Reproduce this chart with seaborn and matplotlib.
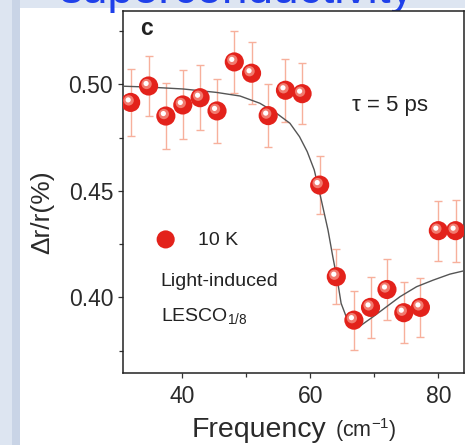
import numpy as np
import pandas as pd
import matplotlib
matplotlib.use("Agg")
import matplotlib.pyplot as plt
import matplotlib.transforms as mtransforms
from matplotlib.patches import Rectangle
from matplotlib.ticker import MultipleLocator
import seaborn as sns

# ---- data ----
freq = [31.9, 34.7, 37.4, 40.05, 42.75, 45.4, 48.1, 50.8, 53.4, 56.1,
        58.7, 61.45, 64.05, 66.8, 69.4, 71.97, 74.6, 77.2, 80.0, 82.7]
dr = [0.4915, 0.4992, 0.4851, 0.4903, 0.4937, 0.4875, 0.5105, 0.5052, 0.4853, 0.4972,
      0.4956, 0.4527, 0.4097, 0.3893, 0.3953, 0.4037, 0.3928, 0.3953, 0.4313, 0.4313]
err = [0.0158, 0.0139, 0.0154, 0.0162, 0.0152, 0.0152, 0.0147, 0.0145, 0.0149, 0.0147,
       0.0144, 0.0136, 0.0129, 0.0139, 0.0142, 0.0143, 0.0144, 0.0140, 0.0141, 0.0145]

fit_x = [30.72, 34.7, 40.1, 45.3, 49.0, 52.1, 54.7, 56.8, 58.3, 59.5, 60.6, 61.7,
         62.75, 63.5, 64.3, 64.8, 65.6, 66.9, 67.97, 69.8, 71.9, 74.0, 76.6,
         79.2, 81.8, 84.06]
fit_y = [0.4991, 0.4987, 0.4978, 0.4962, 0.4945, 0.4911, 0.4864, 0.4817, 0.4754,
         0.4684, 0.4598, 0.4457, 0.4316, 0.4191, 0.4066, 0.3972, 0.3909, 0.3870,
         0.3870, 0.3909, 0.3956, 0.4003, 0.4050, 0.4081, 0.4109, 0.4125]

x_ticks = [40, 60, 80]
y_ticks = [0.40, 0.45, 0.50]

# ---- figure ----
sns.set_theme(style="ticks")
plt.rcParams['font.family'] = ['Liberation Sans', 'DejaVu Sans']
plt.rcParams['mathtext.fontset'] = 'custom'
plt.rcParams['mathtext.rm'] = 'Liberation Sans'

W, H = 465, 445
fig = plt.figure(figsize=(W / 100, H / 100), dpi=100)
fig.patch.set_facecolor('#dde5f1')

# slide-like background bands and white panel
fig.patches.append(Rectangle((12 / W, 0), 8 / W, 1, transform=fig.transFigure,
                             facecolor='#c9d4e6', edgecolor='none', zorder=-10))
fig.patches.append(Rectangle((20 / W, 0), 445 / W, (H - 8) / H, transform=fig.transFigure,
                             facecolor='white', edgecolor='none', zorder=-9))
fig.text(60 / W, (H - 3) / H, "superconductivity", fontsize=33, color='#1f40ea',
         va='baseline', ha='left', zorder=-8)

ax = fig.add_axes([123 / W, (H - 373) / H, (464.3 - 123) / W, (373 - 11) / H])
ax.set_zorder(1)
ax.set_facecolor('white')

df = pd.DataFrame({'freq': freq, 'dr': dr, 'err': err})
fit = pd.DataFrame({'x': fit_x, 'y': fit_y})

ax.errorbar(df['freq'], df['dr'], yerr=df['err'], fmt='none', ecolor='#f7b09c',
            elinewidth=1.0, capsize=3, capthick=1.0, zorder=2)
sns.lineplot(data=fit, x='x', y='y', sort=False, color='#555555', linewidth=1.0,
             ax=ax, zorder=3)
sns.scatterplot(data=df, x='freq', y='dr', s=190, color='#e3221b', edgecolor='none',
                linewidth=0, ax=ax, zorder=4)
# glossy highlight
hl1 = mtransforms.offset_copy(ax.transData, fig=fig, x=-2.0, y=2.0, units='dots')
ax.scatter(df['freq'], df['dr'], s=55, color='#f27a6e', edgecolor='none', transform=hl1, zorder=5)
hl2 = mtransforms.offset_copy(ax.transData, fig=fig, x=-2.5, y=2.5, units='dots')
ax.scatter(df['freq'], df['dr'], s=14, color='#ffffff', edgecolor='none', transform=hl2, zorder=6)

ax.set_xlim(30.7, 84.06)
ax.set_ylim(0.3645, 0.5344)
ax.set_xticks(x_ticks)
ax.set_yticks(y_ticks)
ax.set_yticklabels([f"{v:.2f}" for v in y_ticks])
ax.xaxis.set_minor_locator(MultipleLocator(10))
ax.yaxis.set_minor_locator(MultipleLocator(0.025))
ax.tick_params(which='major', direction='out', length=3.6, width=0.9, color='#333333',
               labelsize=16.5, labelcolor='#2a2a2a')
ax.tick_params(axis='y', which='major', pad=3.5)
ax.tick_params(axis='x', which='major', pad=5)
ax.tick_params(which='minor', direction='out', length=2.8, width=0.9, color='#333333')
for s in ax.spines.values():
    s.set_linewidth(1.1)
    s.set_color('#222222')
    s.set_visible(True)
ax.set_xlabel('')
ax.set_ylabel('')

# axis labels
fig.text(191.7 / W, (H - 436.7) / H, "Frequency", fontsize=20.5, color='#2a2a2a',
         va='baseline', ha='left')
fig.text(335 / W, (H - 436.7) / H, r"(cm$^{\mathregular{-1}}$)", fontsize=15.5, color='#2a2a2a',
         va='baseline', ha='left')
fig.text(42 / W, (H - 211.7) / H, "Δr/r(%)", fontsize=19, color='#2a2a2a',
         rotation=90, va='center', ha='center')

# annotations
ax.text(140 / W, (H - 35) / H, "c", fontsize=16.5, fontweight='bold', color='#222222',
        va='baseline', ha='left', transform=fig.transFigure, zorder=7)
ax.text(351.7 / W, (H - 110.7) / H, "τ = 5 ps", fontsize=16, color='#222222',
        va='baseline', ha='left', transform=fig.transFigure, zorder=7)
ax.scatter([0.125], [0.369], s=170, color='#e3221b', edgecolor='none',
           transform=ax.transAxes, clip_on=False, zorder=6)
ax.text(198.3 / W, (H - 245) / H, "10 K", fontsize=14, color='#222222',
        va='baseline', ha='left', transform=fig.transFigure, zorder=7)
ax.text(160.7 / W, (H - 285.5) / H, "Light-induced", fontsize=14, color='#222222',
        va='baseline', ha='left', transform=fig.transFigure, zorder=7)
ax.text(160.7 / W, (H - 321.7) / H, r"LESCO$_{\mathregular{1/8}}$", fontsize=14, color='#222222',
        va='baseline', ha='left', transform=fig.transFigure, zorder=7)

fig.savefig("out.png", dpi=100, facecolor=fig.get_facecolor())
